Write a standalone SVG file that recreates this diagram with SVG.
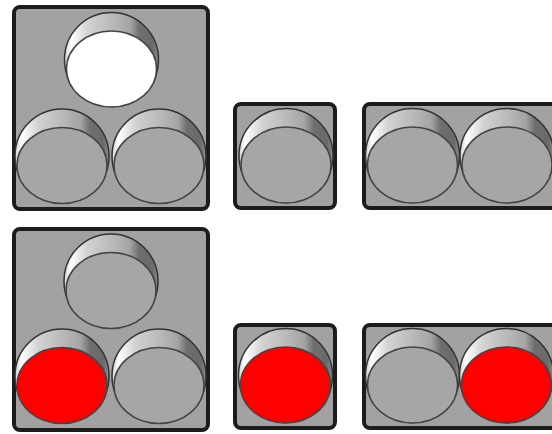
<svg xmlns="http://www.w3.org/2000/svg" xmlns:xlink="http://www.w3.org/1999/xlink" width="552" height="434" viewBox="0 0 552 434">
<style>
.panel{fill:#a2a2a2;stroke:#1c1c1c;stroke-width:4}
.off{fill:#a6a6a6}
.white{fill:#ffffff}
.red{fill:#ff0000}
</style>
<defs>
<linearGradient id="rim" x1="0" y1="0" x2="1" y2="0">
<stop offset="0" stop-color="#cfcfcf"/>
<stop offset="0.07" stop-color="#ffffff"/>
<stop offset="0.25" stop-color="#d2d2d2"/>
<stop offset="0.5" stop-color="#bababa"/>
<stop offset="0.7" stop-color="#a4a4a4"/>
<stop offset="0.8" stop-color="#6e6e6e"/>
<stop offset="0.94" stop-color="#6a6a6a"/>
<stop offset="1" stop-color="#8c8c8c"/>
</linearGradient>
<g id="lamp">
<circle cx="0" cy="-9.5" r="47" fill="url(#rim)" stroke="#333" stroke-width="1.5"/>
<ellipse cx="0" cy="0" rx="45" ry="38" stroke="#444" stroke-width="1.5"/>
</g>
</defs>
<rect width="552" height="434" fill="#ffffff"/>
<g id="signal-1">
<rect class="panel" x="14" y="7" width="194" height="202" rx="6"/>
<use href="#lamp" x="111.5" y="69" class="white"/>
<use href="#lamp" x="62" y="165.5" class="off"/>
<use href="#lamp" x="159" y="165.5" class="off"/>
</g>
<g id="signal-2">
<rect class="panel" x="235" y="104" width="100" height="104" rx="6"/>
<use href="#lamp" x="286" y="165" class="off"/>
</g>
<g id="signal-3">
<rect class="panel" x="364" y="104" width="200" height="104" rx="6"/>
<use href="#lamp" x="412.5" y="165" class="off"/>
<use href="#lamp" x="507" y="165" class="off"/>
</g>
<g id="signal-4">
<rect class="panel" x="14" y="229" width="194" height="201" rx="6"/>
<use href="#lamp" x="111" y="290.5" class="off"/>
<use href="#lamp" x="62" y="385.5" class="red"/>
<use href="#lamp" x="159" y="385.5" class="off"/>
</g>
<g id="signal-5">
<rect class="panel" x="235" y="325" width="100" height="103" rx="6"/>
<use href="#lamp" x="285.5" y="385" class="red"/>
</g>
<g id="signal-6">
<rect class="panel" x="364" y="325" width="200" height="103" rx="6"/>
<use href="#lamp" x="412.5" y="385" class="off"/>
<use href="#lamp" x="506.5" y="385" class="red"/>
</g>
</svg>
